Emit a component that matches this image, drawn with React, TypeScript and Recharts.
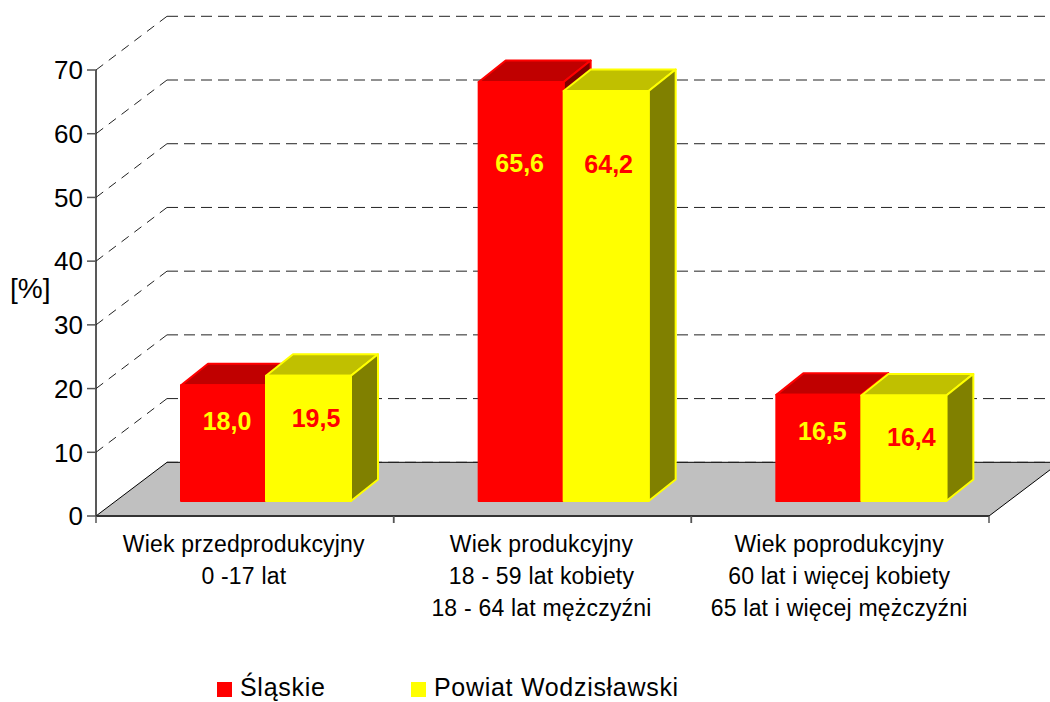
import { BarChart, Bar, XAxis, YAxis, CartesianGrid, Legend, LabelList } from "recharts";

const categories = [
  "Wiek przedprodukcyjny\n0 -17 lat",
  "Wiek produkcyjny\n18 - 59 lat kobiety\n18 - 64 lat mężczyźni",
  "Wiek poprodukcyjny\n60 lat i więcej kobiety\n65 lat i więcej mężczyźni",
];
const slaskie = [18.0, 65.6, 16.5];
const wodzislawski = [19.5, 64.2, 16.4];
const yTicks = [0, 10, 20, 30, 40, 50, 60, 70];

const data = categories.map((name, i) => ({
  name,
  slaskie: slaskie[i],
  wodzislawski: wodzislawski[i],
}));

const FONT = '"Liberation Sans", Arial, sans-serif';
const BAND = 297.67;
// depth of the fake 3d floor, and of the bars standing on it
const WALL_DX = 71;
const WALL_DY = -53.7;
const BAR_SHIFT_X = 21;
const BAR_DX = 27;
const BAR_DY = -21.5;
const PLOT_BOTTOM = 515.7;

// labels were placed by hand in the original, so nudge them per bar
const redNudge = [[46, 45], [41, 90], [46, 45]];
const yellowNudge = [[50, 51], [45, 82], [50, 50]];

const GridLine = (props: any) => {
  const { x1, x2, y1 } = props;
  const isFloor = Math.abs(y1 - PLOT_BOTTOM) < 2;
  const bx = x1 + WALL_DX;
  const by = y1 + WALL_DY;
  return (
    <g>
      {isFloor && (
        <polygon
          points={`${x1},${y1} ${x2},${y1} ${x2 + WALL_DX},${by} ${bx},${by}`}
          fill="#c0c0c0"
          stroke="#000"
          strokeWidth={1}
        />
      )}
      {!isFloor && (
        <line x1={x1} y1={y1} x2={bx} y2={by} stroke="#222" strokeDasharray="9 7" />
      )}
      <line x1={bx} y1={by} x2={x2 + WALL_DX} y2={by} stroke="#222" strokeDasharray="11 6" />
    </g>
  );
};

const makeBox = (front: string, top: string, side: string) => (props: any) => {
  const { x, y, width, height } = props;
  const l = x + BAR_SHIFT_X;
  const r = l + width;
  const t = y - 16;
  const b = y + height - 15;
  return (
    <g stroke={front} strokeWidth={2} strokeLinejoin="round">
      <polygon points={`${l},${t} ${l + BAR_DX},${t + BAR_DY} ${r + BAR_DX},${t + BAR_DY} ${r},${t}`} fill={top} />
      <polygon points={`${r},${t} ${r + BAR_DX},${t + BAR_DY} ${r + BAR_DX},${b + BAR_DY} ${r},${b}`} fill={side} />
      <rect x={l} y={t} width={width} height={b - t} fill={front} />
    </g>
  );
};

const makeLabel = (color: string, nudge: number[][]) => (props: any) => {
  const { x, y, value, index } = props;
  return (
    <text
      x={x + BAR_SHIFT_X + nudge[index][0]}
      y={y - 16 + nudge[index][1]}
      fill={color}
      fontFamily={FONT}
      fontSize={25}
      fontWeight="bold"
      textAnchor="middle"
    >
      {Number(value).toFixed(1).replace(".", ",")}
    </text>
  );
};

const CategoryTick = (props: any) => {
  const { x, y, payload } = props;
  const lines = String(payload.value).split("\n");
  return (
    <g>
      <line x1={x - BAND / 2} x2={x - BAND / 2} y1={y} y2={y + 7} stroke="#555" strokeWidth={1.5} />
      <line x1={x + BAND / 2} x2={x + BAND / 2} y1={y} y2={y + 7} stroke="#555" strokeWidth={1.5} />
      {lines.map((line, i) => (
        <text
          key={i}
          x={x - 1}
          y={y + 36 + i * 32}
          textAnchor="middle"
          fontFamily={FONT}
          fontSize={23}
          letterSpacing={0.2}
          fill="#000"
        >
          {line}
        </text>
      ))}
    </g>
  );
};

const LegendContent = ({ payload }: any) => (
  <div style={{ display: "flex", fontFamily: FONT, fontSize: 25, color: "#000", paddingLeft: 217 }}>
    {(payload || []).map((entry: any, i: number) => (
      <div key={i} style={{ display: "flex", alignItems: "center", flex: "none", width: 194 }}>
        <span style={{ flex: "none", width: 15, height: 15, background: entry.color, marginRight: 8, marginTop: 4 }} />
        <span style={{ whiteSpace: "nowrap", letterSpacing: 0.7 }}>{entry.value}</span>
      </div>
    ))}
  </div>
);

export default function App() {
  return (
    <div style={{ position: "absolute", left: 0, top: 0, width: 1050, height: 702, overflow: "hidden", background: "#fff" }}>
      <BarChart
        width={1050}
        height={702}
        data={data}
        margin={{ top: 70, right: 61, bottom: 0, left: 0 }}
        barSize={85}
        barGap={0}
      >
        <CartesianGrid vertical={false} horizontal={(p: any) => <GridLine key={p.key} {...p} />} />
        <XAxis
          dataKey="name"
          height={186}
          interval={0}
          tickLine={false}
          tickSize={0}
          tickMargin={0}
          axisLine={{ stroke: "#333", strokeWidth: 2 }}
          tick={(p: any) => <CategoryTick {...p} />}
        />
        <YAxis
          width={96}
          domain={[0, 70]}
          ticks={yTicks}
          tickSize={9}
          tickMargin={4}
          axisLine={{ stroke: "#222", strokeWidth: 1.5 }}
          tickLine={{ stroke: "#555", strokeWidth: 1.5 }}
          tick={{ fontFamily: FONT, fontSize: 26, fill: "#000" }}
          label={{
            value: "[%]",
            position: "insideLeft",
            offset: 10,
            dy: -5,
            style: { fontFamily: FONT, fontSize: 28, fill: "#000" },
          }}
        />
        <Legend
          layout="horizontal"
          align="center"
          verticalAlign="middle"
          itemSorter={null}
          wrapperStyle={{ left: 0, top: 673, width: 1050 }}
          content={<LegendContent />}
        />
        <Bar
          dataKey="slaskie"
          name="Śląskie"
          fill="#ff0000"
          isAnimationActive={false}
          shape={makeBox("#ff0000", "#c00000", "#800000")}
        >
          <LabelList dataKey="slaskie" content={makeLabel("#ffff00", redNudge)} />
        </Bar>
        <Bar
          dataKey="wodzislawski"
          name="Powiat Wodzisławski"
          fill="#ffff00"
          isAnimationActive={false}
          shape={makeBox("#ffff00", "#c0c000", "#808000")}
        >
          <LabelList dataKey="wodzislawski" content={makeLabel("#ff0000", yellowNudge)} />
        </Bar>
      </BarChart>
    </div>
  );
}
